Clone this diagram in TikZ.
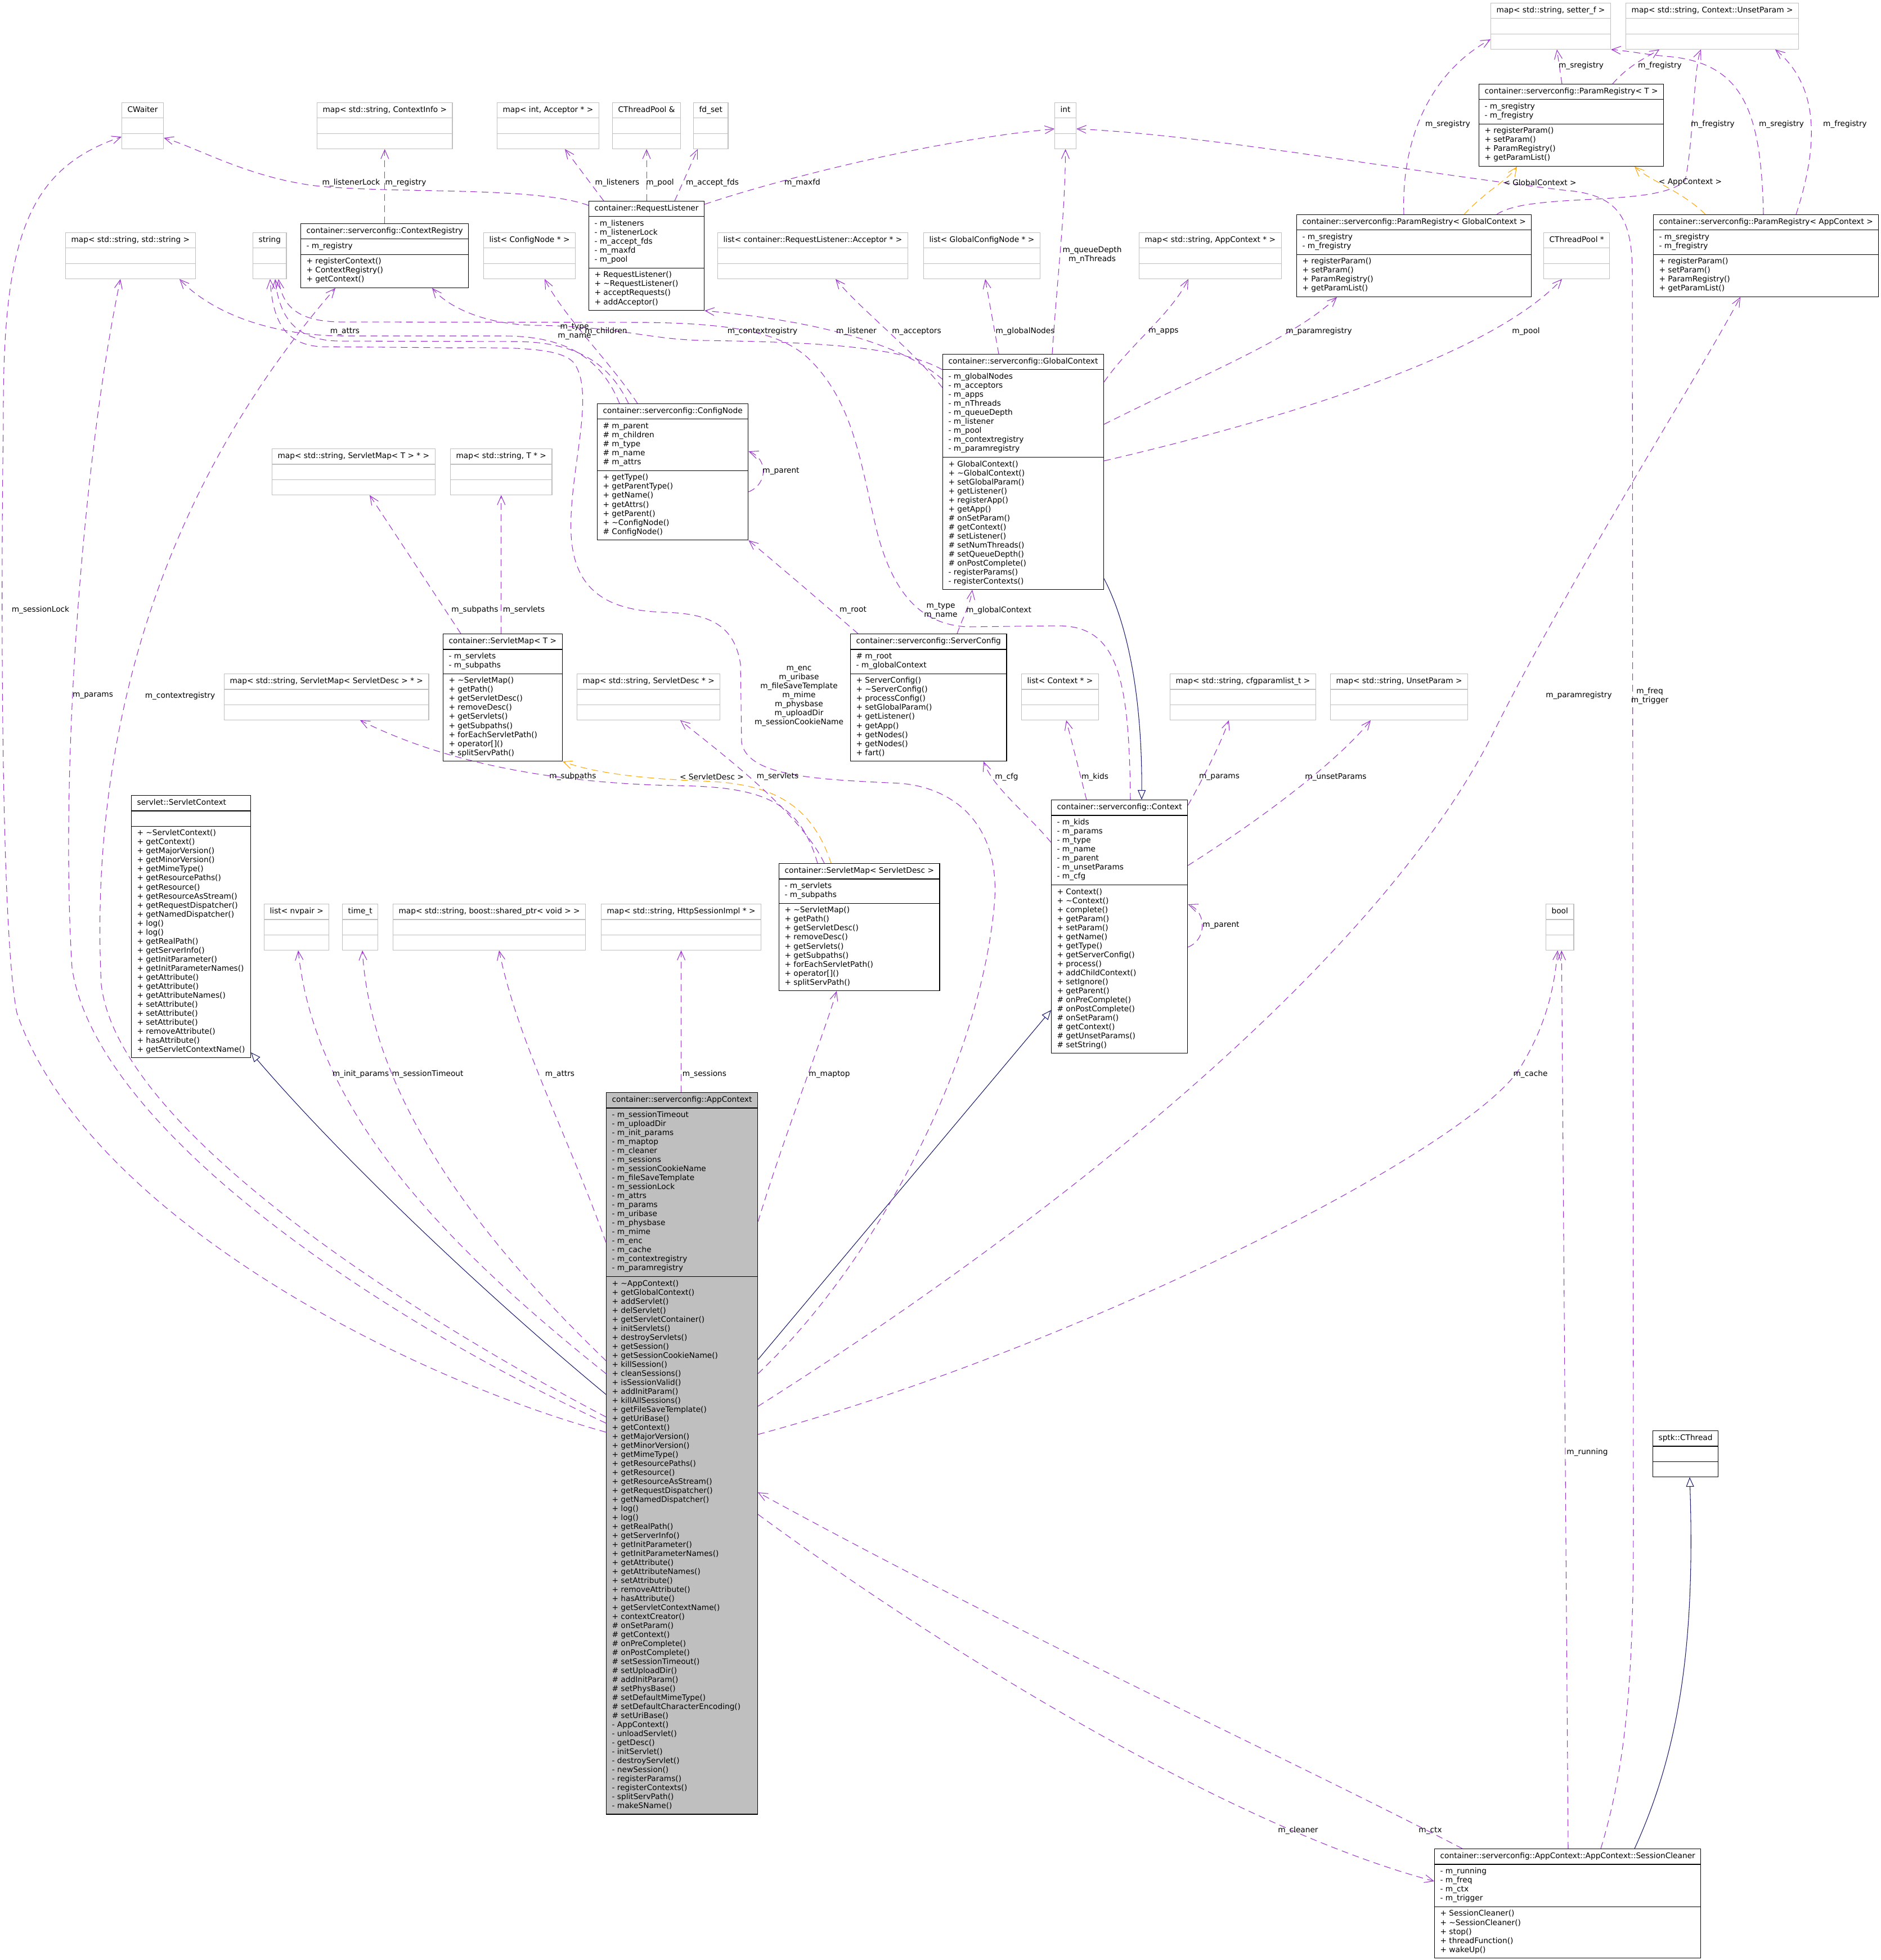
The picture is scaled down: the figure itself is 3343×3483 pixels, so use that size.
\documentclass[tikz,border=0pt]{standalone}
\usepackage{fontspec}
\usepackage{tikz}
\usetikzlibrary{arrows.meta,positioning,calc,shapes.multipart}
\newfontfamily\doxyfont{DejaVu Sans}
\newcommand\umlfont{\doxyfont\fontsize{3.9}{4.552}\selectfont}
\newcommand\members[1]{\begin{tabular}{@{}l@{}}#1\end{tabular}}
\newcommand\blankparts{\nodepart{two}\strut\nodepart{three}\strut}
\definecolor{usepurple}{RGB}{154,50,205}
\definecolor{inhblue}{RGB}{25,25,112}
\definecolor{tmplorange}{RGB}{255,165,0}
\definecolor{boxgray}{RGB}{191,191,191}

\begin{document}
\begin{tikzpicture}[x=0.01cm,y=-0.01cm,
  cls/.style={rectangle split,rectangle split parts=3,rectangle split part align={left},draw=black,line width=0.35pt,fill=white,inner xsep=0.1cm,inner ysep=0.05cm,anchor=north west,font=\umlfont},
  ext/.style={cls,draw=boxgray},
  uses/.style={draw=usepurple,line width=0.3pt,dash pattern=on 0.12cm off 0.08cm,-{Straight Barb[length=0.16cm,width=0.14cm]}},
  tmpl/.style={uses,draw=tmplorange},
  inherits/.style={draw=inhblue,line width=0.3pt,-{Triangle[open,length=0.17cm,width=0.14cm]}},
  lbl/.style={font=\umlfont,inner sep=0pt,align=center}]
\useasboundingbox (0,0) rectangle (3343,3483);

\node[ext] (cwaiter) at (216,182) {\members{CWaiter}\blankparts};
\node[ext] (mapctxinfo) at (563,182) {\members{map< std::string, ContextInfo >}\blankparts};
\node[ext] (mapacceptor) at (883,182) {\members{map< int, Acceptor * >}\blankparts};
\node[ext] (poolref) at (1088,182) {\members{CThreadPool \&}\blankparts};
\node[ext] (fdset) at (1232,182) {\members{fd\_set}\blankparts};
\node[ext] (int) at (1874,182) {\members{int}\blankparts};
\node[ext] (mapsetter) at (2649,5) {\members{map< std::string, setter\_f >}\blankparts};
\node[ext] (mapunsetctx) at (2889,5) {\members{map< std::string, Context::UnsetParam >}\blankparts};
\node[ext] (mapstrstr) at (116,413) {\members{map< std::string, std::string >}\blankparts};
\node[ext] (string) at (449,413) {\members{string}\blankparts};
\node[ext] (listcfgnode) at (859,413) {\members{list< ConfigNode * >}\blankparts};
\node[ext] (listacceptor) at (1275,413) {\members{list< container::RequestListener::Acceptor * >}\blankparts};
\node[ext] (listglobalnode) at (1641,413) {\members{list< GlobalConfigNode * >}\blankparts};
\node[ext] (mapappctx) at (2024,413) {\members{map< std::string, AppContext * >}\blankparts};
\node[ext] (poolptr) at (2743,413) {\members{CThreadPool *}\blankparts};
\node[ext] (mapsmT) at (483,797) {\members{map< std::string, ServletMap< T > * >}\blankparts};
\node[ext] (mapT) at (800,797) {\members{map< std::string, T * >}\blankparts};
\node[ext] (mapsmdesc) at (398,1197) {\members{map< std::string, ServletMap< ServletDesc > * >}\blankparts};
\node[ext] (mapdesc) at (1025,1197) {\members{map< std::string, ServletDesc * >}\blankparts};
\node[ext] (listctx) at (1815,1197) {\members{list< Context * >}\blankparts};
\node[ext] (mapcfgparam) at (2079,1197) {\members{map< std::string, cfgparamlist\_t >}\blankparts};
\node[ext] (mapunset) at (2364,1197) {\members{map< std::string, UnsetParam >}\blankparts};
\node[ext] (listnvpair) at (469,1606) {\members{list< nvpair >}\blankparts};
\node[ext] (timet) at (608,1606) {\members{time\_t}\blankparts};
\node[ext] (mapshared) at (698,1606) {\members{map< std::string, boost::shared\_ptr< void > >}\blankparts};
\node[ext] (mapsession) at (1068,1606) {\members{map< std::string, HttpSessionImpl * >}\blankparts};
\node[ext] (bool) at (2747,1606) {\members{bool}\blankparts};

\node[cls] (reqlistener) at (1046,357) {\members{container::RequestListener}
  \nodepart{two}\members{- m\_listeners\\- m\_listenerLock\\- m\_accept\_fds\\- m\_maxfd\\- m\_pool}
  \nodepart{three}\members{+ RequestListener()\\+ \textasciitilde{}RequestListener()\\+ acceptRequests()\\+ addAcceptor()}};
\node[cls] (ctxreg) at (534,397) {\members{container::serverconfig::ContextRegistry}
  \nodepart{two}\members{- m\_registry}
  \nodepart{three}\members{+ registerContext()\\+ ContextRegistry()\\+ getContext()}};
\node[cls] (pregT) at (2628,149) {\members{container::serverconfig::ParamRegistry< T >}
  \nodepart{two}\members{- m\_sregistry\\- m\_fregistry}
  \nodepart{three}\members{+ registerParam()\\+ setParam()\\+ ParamRegistry()\\+ getParamList()}};
\node[cls] (preggc) at (2304,381) {\members{container::serverconfig::ParamRegistry< GlobalContext >}
  \nodepart{two}\members{- m\_sregistry\\- m\_fregistry}
  \nodepart{three}\members{+ registerParam()\\+ setParam()\\+ ParamRegistry()\\+ getParamList()}};
\node[cls] (pregac) at (2938,381) {\members{container::serverconfig::ParamRegistry< AppContext >}
  \nodepart{two}\members{- m\_sregistry\\- m\_fregistry}
  \nodepart{three}\members{+ registerParam()\\+ setParam()\\+ ParamRegistry()\\+ getParamList()}};
\node[cls] (globalctx) at (1675,629) {\members{container::serverconfig::GlobalContext}
  \nodepart{two}\members{- m\_globalNodes\\- m\_acceptors\\- m\_apps\\- m\_nThreads\\- m\_queueDepth\\- m\_listener\\- m\_pool\\- m\_contextregistry\\- m\_paramregistry}
  \nodepart{three}\members{+ GlobalContext()\\+ \textasciitilde{}GlobalContext()\\+ setGlobalParam()\\+ getListener()\\+ registerApp()\\+ getApp()\\\# onSetParam()\\\# getContext()\\\# setListener()\\\# setNumThreads()\\\# setQueueDepth()\\\# onPostComplete()\\- registerParams()\\- registerContexts()}};
\node[cls] (cfgnode) at (1061,717) {\members{container::serverconfig::ConfigNode}
  \nodepart{two}\members{\# m\_parent\\\# m\_children\\\# m\_type\\\# m\_name\\\# m\_attrs}
  \nodepart{three}\members{+ getType()\\+ getParentType()\\+ getName()\\+ getAttrs()\\+ getParent()\\+ \textasciitilde{}ConfigNode()\\\# ConfigNode()}};
\node[cls] (smT) at (787,1126) {\members{container::ServletMap< T >}
  \nodepart{two}\members{- m\_servlets\\- m\_subpaths}
  \nodepart{three}\members{+ \textasciitilde{}ServletMap()\\+ getPath()\\+ getServletDesc()\\+ removeDesc()\\+ getServlets()\\+ getSubpaths()\\+ forEachServletPath()\\+ operator[]()\\+ splitServPath()}};
\node[cls] (srvcfg) at (1511,1126) {\members{container::serverconfig::ServerConfig}
  \nodepart{two}\members{\# m\_root\\- m\_globalContext}
  \nodepart{three}\members{+ ServerConfig()\\+ \textasciitilde{}ServerConfig()\\+ processConfig()\\+ setGlobalParam()\\+ getListener()\\+ getApp()\\+ getNodes()\\+ getNodes()\\+ fart()}};
\node[cls] (servletctx) at (233,1413) {\members{servlet::ServletContext}
  \nodepart{two}\strut
  \nodepart{three}\members{+ \textasciitilde{}ServletContext()\\+ getContext()\\+ getMajorVersion()\\+ getMinorVersion()\\+ getMimeType()\\+ getResourcePaths()\\+ getResource()\\+ getResourceAsStream()\\+ getRequestDispatcher()\\+ getNamedDispatcher()\\+ log()\\+ log()\\+ getRealPath()\\+ getServerInfo()\\+ getInitParameter()\\+ getInitParameterNames()\\+ getAttribute()\\+ getAttribute()\\+ getAttributeNames()\\+ setAttribute()\\+ setAttribute()\\+ setAttribute()\\+ removeAttribute()\\+ hasAttribute()\\+ getServletContextName()}};
\node[cls] (ctx) at (1868,1421) {\members{container::serverconfig::Context}
  \nodepart{two}\members{- m\_kids\\- m\_params\\- m\_type\\- m\_name\\- m\_parent\\- m\_unsetParams\\- m\_cfg}
  \nodepart{three}\members{+ Context()\\+ \textasciitilde{}Context()\\+ complete()\\+ getParam()\\+ setParam()\\+ getName()\\+ getType()\\+ getServerConfig()\\+ process()\\+ addChildContext()\\+ setIgnore()\\+ getParent()\\\# onPreComplete()\\\# onPostComplete()\\\# onSetParam()\\\# getContext()\\\# getUnsetParams()\\\# setString()}};
\node[cls] (smdesc) at (1384,1534) {\members{container::ServletMap< ServletDesc >}
  \nodepart{two}\members{- m\_servlets\\- m\_subpaths}
  \nodepart{three}\members{+ \textasciitilde{}ServletMap()\\+ getPath()\\+ getServletDesc()\\+ removeDesc()\\+ getServlets()\\+ getSubpaths()\\+ forEachServletPath()\\+ operator[]()\\+ splitServPath()}};
\node[cls,fill=boxgray] (appctx) at (1077,1941) {\members{container::serverconfig::AppContext}
  \nodepart{two}\members{- m\_sessionTimeout\\- m\_uploadDir\\- m\_init\_params\\- m\_maptop\\- m\_cleaner\\- m\_sessions\\- m\_sessionCookieName\\- m\_fileSaveTemplate\\- m\_sessionLock\\- m\_attrs\\- m\_params\\- m\_uribase\\- m\_physbase\\- m\_mime\\- m\_enc\\- m\_cache\\- m\_contextregistry\\- m\_paramregistry}
  \nodepart{three}\members{+ \textasciitilde{}AppContext()\\+ getGlobalContext()\\+ addServlet()\\+ delServlet()\\+ getServletContainer()\\+ initServlets()\\+ destroyServlets()\\+ getSession()\\+ getSessionCookieName()\\+ killSession()\\+ cleanSessions()\\+ isSessionValid()\\+ addInitParam()\\+ killAllSessions()\\+ getFileSaveTemplate()\\+ getUriBase()\\+ getContext()\\+ getMajorVersion()\\+ getMinorVersion()\\+ getMimeType()\\+ getResourcePaths()\\+ getResource()\\+ getResourceAsStream()\\+ getRequestDispatcher()\\+ getNamedDispatcher()\\+ log()\\+ log()\\+ getRealPath()\\+ getServerInfo()\\+ getInitParameter()\\+ getInitParameterNames()\\+ getAttribute()\\+ getAttributeNames()\\+ setAttribute()\\+ removeAttribute()\\+ hasAttribute()\\+ getServletContextName()\\+ contextCreator()\\\# onSetParam()\\\# getContext()\\\# onPreComplete()\\\# onPostComplete()\\\# setSessionTimeout()\\\# setUploadDir()\\\# addInitParam()\\\# setPhysBase()\\\# setDefaultMimeType()\\\# setDefaultCharacterEncoding()\\\# setUriBase()\\- AppContext()\\- unloadServlet()\\- getDesc()\\- initServlet()\\- destroyServlet()\\- newSession()\\- registerParams()\\- registerContexts()\\- splitServPath()\\- makeSName()}};
\node[cls] (cthread) at (2937,2542) {\members{sptk::CThread}\blankparts};
\node[cls] (cleaner) at (2549,3285) {\members{container::serverconfig::AppContext::AppContext::SessionCleaner}
  \nodepart{two}\members{- m\_running\\- m\_freq\\- m\_ctx\\- m\_trigger}
  \nodepart{three}\members{+ SessionCleaner()\\+ \textasciitilde{}SessionCleaner()\\+ stop()\\+ threadFunction()\\+ wakeUp()}};

\draw[uses] ($(reqlistener.north west)+(0,8)$) .. controls (950,330) and (700,345) .. (560,330) .. controls (440,315) and (350,262) .. ($(cwaiter.south east)+(0,-20)$);
\draw[uses] (mapctxinfo.south |- ctxreg.north) -- (mapctxinfo.south);
\draw[uses] ($(reqlistener.north west)+(27,0)$) -- ($(mapacceptor.south west)+(121,0)$);
\draw[uses] (poolref.south |- reqlistener.north) -- (poolref.south);
\draw[uses] ($(reqlistener.north west)+(153,0)$) -- ($(fdset.south west)+(8,0)$);
\draw[uses] ($(reqlistener.north east)+(0,6)$) .. controls (1380,320) and (1650,250) .. ($(int.south west)+(0,-36)$);
\draw[uses] ($(globalctx.north west)+(195,0)$) .. controls (1880,480) and (1893,380) .. (int.south);
\draw[uses] ($(cleaner.north west)+(296,0)$) .. controls (2895,3120) and (2903,2950) .. (2903,2700) -- (2901,480) .. controls (2900,380) and (2870,345) .. (2780,338) .. controls (2500,305) and (2150,240) .. ($(int.south east)+(0,-36)$);
\draw[uses] ($(cleaner.north west)+(238,0)$) -- ($(bool.south)+(3,0)$);
\draw[uses] ($(appctx.north east)+(0,608)$) .. controls (1900,2400) and (2600,2050) .. (2700,1900) .. controls (2750,1820) and (2763,1750) .. ($(bool.south)+(-4,0)$);
\draw[uses] ($(appctx.north east)+(0,558)$) .. controls (1900,2150) and (2450,1700) .. (2650,1310) .. controls (2800,1010) and (3000,700) .. ($(pregac.south west)+(155,0)$);
\draw[uses] ($(cleaner.north west)+(50,0)$) .. controls (2300,3130) and (1800,2900) .. ($(appctx.north east)+(0,711)$);
\draw[uses] ($(appctx.north east)+(0,750)$) .. controls (1700,2950) and (2200,3250) .. ($(cleaner.north west)+(0,58)$);
\draw[inherits] ($(cleaner.north west)+(356,0)$) .. controls (2990,3100) and (3012,2900) .. ($(cthread.south west)+(66,0)$);
\draw[inherits] ($(appctx.north west)+(0,537)$) .. controls (850,2290) and (600,2050) .. ($(servletctx.south east)+(0,-10)$);
\draw[inherits] ($(appctx.north east)+(0,475)$) -- ($(ctx.north west)+(0,374)$);
\draw[inherits] ($(globalctx.south east)+(0,-20)$) .. controls (2010,1120) and (2030,1260) .. ($(ctx.north west)+(161,0)$);
\draw[uses] ($(appctx.north west)+(0,500)$) .. controls (800,2220) and (560,1980) .. ($(listnvpair.south west)+(61,0)$);
\draw[uses] ($(appctx.north west)+(0,477)$) .. controls (850,2200) and (660,1950) .. ($(timet.south west)+(36,0)$);
\draw[uses] ($(appctx.north west)+(0,267)$) .. controls (1010,2020) and (920,1850) .. ($(mapshared.south west)+(189,0)$);
\draw[uses] (mapsession.south |- appctx.north) -- (mapsession.south);
\draw[uses] ($(appctx.north east)+(0,230)$) .. controls (1400,2000) and (1460,1850) .. ($(smdesc.south west)+(103,0)$);
\draw[uses] ($(appctx.north west)+(0,604)$) .. controls (700,2440) and (150,2150) .. (30,1800) .. controls (0,1650) and (2,1000) .. (6,750) .. controls (4,420) and (50,300) .. ($(cwaiter.south west)+(0,-22)$);
\draw[uses] ($(appctx.north west)+(0,588)$) .. controls (650,2330) and (170,2000) .. (128,1720) .. controls (105,1350) and (150,800) .. ($(mapstrstr.south west)+(98,0)$);
\draw[uses] ($(appctx.north west)+(0,577)$) .. controls (700,2320) and (210,2000) .. (180,1750) .. controls (160,1350) and (260,900) .. ($(ctxreg.south west)+(62,0)$);
\draw[uses] ($(appctx.north east)+(0,500)$) .. controls (1550,2250) and (1740,1900) .. (1767,1609) .. controls (1780,1470) and (1700,1400) .. (1600,1392) .. controls (1450,1385) and (1330,1380) .. (1318,1320) -- (1316,1180) .. controls (1305,1110) and (1260,1090) .. (1180,1088) .. controls (1080,1085) and (1020,1050) .. (1015,950) .. controls (1010,840) and (1060,700) .. (1020,645) .. controls (995,615) and (900,618) .. (800,618) -- (570,616) .. controls (500,612) and (484,560) .. ($(string.south west)+(31,0)$);
\draw[uses] ($(cfgnode.north west)+(56,0)$) .. controls (1085,650) and (1030,608) .. (920,607) -- (600,606) .. controls (530,604) and (497,570) .. ($(string.south west)+(40,0)$);
\draw[uses] ($(cfgnode.north west)+(40,0)$) .. controls (1070,640) and (1010,598) .. (900,597) -- (610,597) .. controls (470,596) and (370,550) .. ($(mapstrstr.south west)+(203,0)$);
\draw[uses] ($(ctx.north west)+(141,0)$) .. controls (2007,1200) and (1985,1112) .. (1880,1112) -- (1720,1114) .. controls (1640,1110) and (1590,1060) .. (1560,950) .. controls (1530,830) and (1520,720) .. (1440,640) .. controls (1390,590) and (1300,575) .. (1150,573) -- (600,572) .. controls (530,570) and (502,545) .. ($(string.south west)+(46,0)$);
\draw[uses] ($(globalctx.north west)+(0,28)$) .. controls (1600,615) and (1450,608) .. (1250,605) .. controls (1150,603) and (1100,580) .. (950,578) .. controls (870,577) and (800,550) .. ($(ctxreg.south west)+(234,0)$);
\draw[uses] ($(globalctx.north west)+(0,45)$) .. controls (1600,610) and (1450,570) .. (reqlistener.south east);
\draw[uses] ($(globalctx.north west)+(0,60)$) .. controls (1620,620) and (1530,550) .. ($(listacceptor.south west)+(210,0)$);
\draw[uses] ($(globalctx.north west)+(100,0)$) -- ($(listglobalnode.south west)+(110,0)$);
\draw[uses] ($(globalctx.north east)+(0,50)$) .. controls (2010,610) and (2080,560) .. ($(mapappctx.south west)+(88,0)$);
\draw[uses] ($(globalctx.north east)+(0,125)$) .. controls (2150,660) and (2300,600) .. ($(preggc.south west)+(72,0)$);
\draw[uses] ($(globalctx.north east)+(0,190)$) .. controls (2300,740) and (2650,630) .. ($(poolptr.south west)+(33,0)$);
\draw[uses] ($(pregT.north west)+(148,0)$) -- ($(mapsetter.south west)+(118,0)$);
\draw[uses] ($(pregT.north west)+(238,0)$) .. controls (2895,115) and (2930,100) .. ($(mapunsetctx.south west)+(60,0)$);
\draw[uses] ($(preggc.north west)+(191,0)$) .. controls (2490,250) and (2540,130) .. ($(mapsetter.north west)+(0,65)$);
\draw[uses] ($(preggc.north west)+(356,0)$) .. controls (2720,340) and (2950,370) .. (2995,320) .. controls (3010,250) and (3010,120) .. ($(mapunsetctx.south west)+(134,0)$);
\draw[uses] ($(pregac.north west)+(196,0)$) .. controls (3130,200) and (3100,110) .. (2960,100) .. controls (2920,96) and (2890,90) .. (mapsetter.south east);
\draw[uses] ($(pregac.north west)+(254,0)$) .. controls (3235,250) and (3230,150) .. ($(mapunsetctx.south west)+(266,0)$);
\draw[tmpl] ($(preggc.north west)+(298,0)$) .. controls (2640,340) and (2680,320) .. ($(pregT.south west)+(68,0)$);
\draw[tmpl] ($(pregac.north west)+(93,0)$) .. controls (2990,340) and (2930,320) .. ($(pregT.south west)+(277,0)$);
\draw[uses] ($(smT.north west)+(32,0)$) -- ($(mapsmT.south west)+(174,0)$);
\draw[uses] (mapT.south |- smT.north) -- (mapT.south);
\draw[uses] ($(smdesc.north west)+(69,0)$) .. controls (1420,1420) and (1350,1398) .. (1200,1396) .. controls (1000,1392) and (800,1360) .. ($(mapsmdesc.south west)+(242,0)$);
\draw[tmpl] ($(smdesc.north west)+(93,0)$) .. controls (1440,1420) and (1360,1392) .. (1250,1388) .. controls (1150,1384) and (1060,1375) .. (smT.south east);
\draw[uses] ($(smdesc.north west)+(81,0)$) .. controls (1420,1440) and (1270,1330) .. ($(mapdesc.south west)+(184,0)$);
\draw[uses] ($(ctx.north west)+(0,76)$) .. controls (1820,1440) and (1765,1400) .. ($(srvcfg.south west)+(237,0)$);
\draw[uses] ($(ctx.north west)+(63,0)$) -- ($(listctx.south west)+(80,0)$);
\draw[uses] ($(ctx.north east)+(0,10)$) .. controls (2140,1380) and (2170,1320) .. ($(mapcfgparam.south west)+(105,0)$);
\draw[uses] ($(ctx.north east)+(0,117)$) .. controls (2250,1450) and (2380,1350) .. ($(mapunset.south west)+(72,0)$);
\draw[uses] ($(ctx.north east)+(0,262)$) .. controls (2145,1670) and (2145,1620) .. ($(ctx.north east)+(0,186)$);
\draw[uses] ($(cfgnode.north west)+(72,0)$) .. controls (1090,650) and (1000,560) .. ($(listcfgnode.south west)+(109,0)$);
\draw[uses] ($(cfgnode.north east)+(0,157)$) .. controls (1365,860) and (1365,815) .. ($(cfgnode.north east)+(0,85)$);
\draw[uses] ($(srvcfg.north west)+(14,0)$) .. controls (1460,1070) and (1390,1010) .. (cfgnode.south east);
\draw[uses] ($(srvcfg.north west)+(190,0)$) .. controls (1712,1095) and (1724,1075) .. ($(globalctx.south west)+(53,0)$);

\node[lbl] (l-listenerlock) at (624,325) {m\_listenerLock};
\node[lbl] (l-registry) at (721,325) {m\_registry};
\node[lbl] (l-listeners) at (1097,325) {m\_listeners};
\node[lbl] (l-poolref) at (1173,325) {m\_pool};
\node[lbl] (l-acceptfds) at (1266,325) {m\_accept\_fds};
\node[lbl] (l-maxfd) at (1426,325) {m\_maxfd};
\node[lbl] (l-queuedepth) at (1941,453) {m\_queueDepth\\m\_nThreads};
\node[lbl] (l-ctxregistry) at (1355,589) {m\_contextregistry};
\node[lbl] (l-listener) at (1522,589) {m\_listener};
\node[lbl] (l-acceptors) at (1629,589) {m\_acceptors};
\node[lbl] (l-globalnodes) at (1822,589) {m\_globalNodes};
\node[lbl] (l-apps) at (2068,589) {m\_apps};
\node[lbl] (l-gcparamreg) at (2344,589) {m\_paramregistry};
\node[lbl] (l-poolptr) at (2712,589) {m\_pool};
\node[lbl] (l-cfgattrs) at (613,589) {m\_attrs};
\node[lbl] (l-cfgtype) at (1021,589) {m\_type\\m\_name};
\node[lbl] (l-children) at (1077,589) {m\_children};
\node[lbl] (l-sregT) at (2810,117) {m\_sregistry};
\node[lbl] (l-fregT) at (2950,117) {m\_fregistry};
\node[lbl] (l-sreggc) at (2573,221) {m\_sregistry};
\node[lbl] (l-freggc) at (3044,221) {m\_fregistry};
\node[lbl] (l-sregac) at (3166,221) {m\_sregistry};
\node[lbl] (l-fregac) at (3279,221) {m\_fregistry};
\node[lbl] (l-gctmpl) at (2737,324) {< GlobalContext >};
\node[lbl] (l-actmpl) at (3004,324) {< AppContext >};
\node[lbl] (l-cfgparent) at (1388,837) {m\_parent};
\node[lbl] (l-subpathsT) at (844,1084) {m\_subpaths};
\node[lbl] (l-servletsT) at (931,1084) {m\_servlets};
\node[lbl] (l-root) at (1516,1084) {m\_root};
\node[lbl] (l-enc) at (1420,1237) {m\_enc\\m\_uribase\\m\_fileSaveTemplate\\m\_mime\\m\_physbase\\m\_uploadDir\\m\_sessionCookieName};
\node[lbl] (l-ctxtype) at (1672,1085) {m\_type\\m\_name};
\node[lbl] (l-globalctx) at (1775,1085) {m\_globalContext};
\node[lbl] (l-acparamreg) at (2806,1236) {m\_paramregistry};
\node[lbl] (l-freq) at (2932,1237) {m\_freq\\m\_trigger};
\node[lbl] (l-acctxreg) at (320,1237) {m\_contextregistry};
\node[lbl] (l-acparams) at (165,1236) {m\_params};
\node[lbl] (l-sessionlock) at (72,1084) {m\_sessionLock};
\node[lbl] (l-subpathsD) at (1018,1380) {m\_subpaths};
\node[lbl] (l-sdtmpl) at (1265,1380) {< ServletDesc >};
\node[lbl] (l-servletsD) at (1382,1380) {m\_servlets};
\node[lbl] (l-initparams) at (641,1909) {m\_init\_params};
\node[lbl] (l-sesstimeout) at (760,1909) {m\_sessionTimeout};
\node[lbl] (l-acattrs) at (995,1909) {m\_attrs};
\node[lbl] (l-sessions) at (1252,1909) {m\_sessions};
\node[lbl] (l-maptop) at (1474,1909) {m\_maptop};
\node[lbl] (l-cfg) at (1789,1381) {m\_cfg};
\node[lbl] (l-kids) at (1946,1381) {m\_kids};
\node[lbl] (l-ctxparams) at (2167,1381) {m\_params};
\node[lbl] (l-unsetparams) at (2374,1381) {m\_unsetParams};
\node[lbl] (l-ctxparent) at (2170,1644) {m\_parent};
\node[lbl] (l-cache) at (2720,1909) {m\_cache};
\node[lbl] (l-running) at (2821,2581) {m\_running};
\node[lbl] (l-cleaner) at (2307,3253) {m\_cleaner};
\node[lbl] (l-ctx) at (2542,3253) {m\_ctx};
\end{tikzpicture}
\end{document}
